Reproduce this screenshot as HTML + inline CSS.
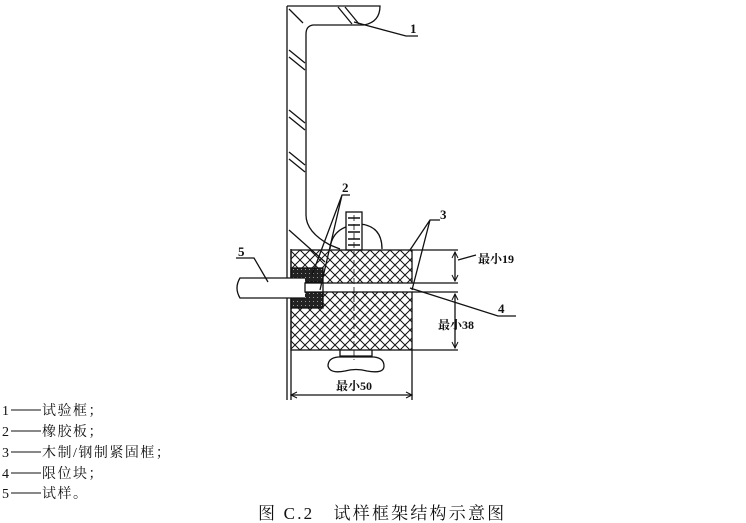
<!DOCTYPE html>
<html><head><meta charset="utf-8"><style>
html,body{margin:0;padding:0;background:#fff;width:746px;height:523px;overflow:hidden}
svg{display:block}
text{font-family:"Liberation Serif","Noto Serif CJK SC","Noto Sans CJK SC",serif;fill:#111}
</style></head><body>
<svg width="746" height="523" viewBox="0 0 746 523" xmlns="http://www.w3.org/2000/svg">
<defs>
<pattern id="x" width="10" height="10" patternUnits="userSpaceOnUse">
<path d="M0 0L10 10M10 0L0 10" stroke="#111" stroke-width="1"/>
</pattern>
<pattern id="r" width="4" height="4" patternUnits="userSpaceOnUse">
<rect width="4" height="4" fill="#222"/><rect x="1" y="1" width="1" height="1" fill="#999"/>
</pattern>
</defs>
<g fill="none" stroke="#111" stroke-width="1.3">
<path d="M287 6 L380 6 Q380 22 364 25 L313 25 Q306 26 306 34 L306 215 Q306 232 330 245 L340 249"/>
<path d="M287 6 L287 400"/>
<path d="M291 249 L291 400"/>
<path d="M289 9 L303 23 M289 50 L305 63 M289 57 L305 70 M289 110 L305 123 M289 117 L305 130 M289 152 L305 165 M289 159 L305 172 M338 7 L352 24 M345 7 L359 24 M289 230 L325 262"/>
<path d="M330 249 Q332 226 360 224 Q382 226 382 249"/>
<rect x="346" y="212" width="16" height="38" fill="#fff"/>
<path d="M348 218h12M348 225h12M348 232h12M348 239h12M348 245h12" stroke-width="1.5"/>
<rect x="291" y="250" width="121" height="33" fill="url(#x)"/>
<rect x="291" y="292" width="121" height="58" fill="url(#x)"/>
<rect x="291" y="268" width="32" height="14" fill="url(#r)"/>
<rect x="291" y="292" width="32" height="16" fill="url(#r)"/>
<path d="M354 215 L354 360" stroke-dasharray="6 3" stroke-width="0.8"/>
<path d="M305 278 L240 278 Q234 288 240 298 L305 298" fill="#fff"/>
<rect x="305" y="283" width="18" height="9" fill="#fff"/>
<path d="M340 350 L340 356 L372 356 L372 350"/>
<path d="M338 357 Q328 358 328 366 Q330 374 345 371 Q356 368 367 371 Q384 374 384 366 Q384 358 374 357 Z"/>
<path d="M412 250 L458 250 M412 283 L458 283 M412 292 L458 292 M412 350 L458 350"/>
<path d="M455 252 L455 281 M455 294 L455 348"/>
<path d="M412 350 L412 400 M291 395 L412 395"/>
<path d="M452 258L455 252L458 258M452 275L455 281L458 275M452 300L455 294L458 300M452 342L455 348L458 342M297 392L291 395L297 398M406 392L412 395L406 398" stroke-width="1"/>
<path d="M458 260 L476 255"/>
<path d="M350 195 L342 195 L312 275 M342 195 L320 290 M236 258 L254 258 L268 282"/>
<path d="M440 220 L430 220 L410 250 M430 220 L412 290"/>
<path d="M410 288 L498 316 L516 316 M354 22 L406 36 L418 36"/>
<path d="M11 410H41M11 431H41M11 452H41M11 473H41M11 493H41" stroke-width="1"/>
</g>
<g font-size="13" font-family="Liberation Sans,sans-serif" font-weight="bold">
<text x="342" y="192">2</text>
<text x="440" y="219">3</text>
<text x="238" y="256">5</text>
<text x="498" y="313">4</text>
<text x="410" y="33">1</text>
</g>
<g font-size="12" font-family="Liberation Sans,Noto Sans CJK SC,sans-serif" font-weight="bold">
<text x="478" y="263">最小19</text>
<text x="438" y="329">最小38</text>
<text x="336" y="390">最小50</text>
</g>
<g font-size="14">
<text x="2" y="415">1</text><text x="2" y="436">2</text><text x="2" y="457">3</text><text x="2" y="478">4</text><text x="2" y="498">5</text>
</g>
<g font-size="14" letter-spacing="1.5">
<text x="42" y="415">试验框；</text>
<text x="42" y="436">橡胶板；</text>
<text x="42" y="457">木制/钢制紧固框；</text>
<text x="42" y="478">限位块；</text>
<text x="42" y="498">试样。</text>
</g>
<text x="258" y="519" font-size="17" letter-spacing="2.2" font-family="Liberation Sans,Noto Sans CJK SC,sans-serif">图 C.2　试样框架结构示意图</text>
</svg>
</body></html>
